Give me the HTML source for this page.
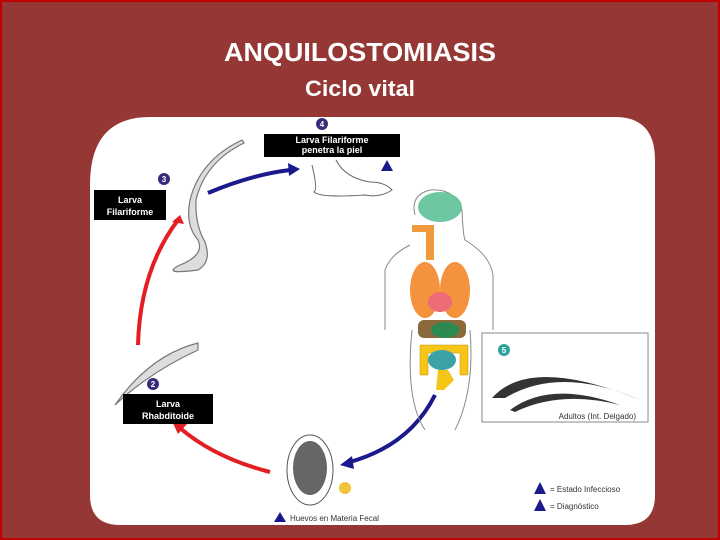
<!DOCTYPE html>
<html><head><meta charset="utf-8"><style>
html,body{margin:0;padding:0;background:#953735;}
svg{display:block}
</style></head><body>
<svg width="720" height="540" viewBox="0 0 720 540" xmlns="http://www.w3.org/2000/svg" font-family="Liberation Sans, sans-serif">
<rect x="0" y="0" width="720" height="540" fill="#953735"/>
<rect x="1" y="1" width="718" height="538" fill="none" stroke="#c00000" stroke-width="2"/>
<text x="360" y="61" text-anchor="middle" fill="#fff" font-size="26" font-weight="bold" textLength="272" lengthAdjust="spacingAndGlyphs">ANQUILOSTOMIASIS</text>
<text x="360" y="96" text-anchor="middle" fill="#fff" font-size="22" font-weight="bold" textLength="110" lengthAdjust="spacingAndGlyphs">Ciclo vital</text>
<path d="M150 117 H615 Q655 117 655 160 V495 Q655 525 625 525 H120 Q90 525 90 495 V185 Q90 117 150 117 Z" fill="#fff"/>
<!-- arrows -->
<path d="M138 345 Q140 270 178 220" fill="none" stroke="#e31e24" stroke-width="4"/>
<polygon points="180,215 172,222 184,224" fill="#e31e24"/>
<path d="M270 472 Q215 458 180 428" fill="none" stroke="#e31e24" stroke-width="4"/>
<polygon points="172,421 187,424 178,434" fill="#e31e24"/>
<path d="M208 193 Q250 175 290 170" fill="none" stroke="#1a1a8c" stroke-width="4"/>
<polygon points="300,169 288,163 289,176" fill="#1a1a8c"/>
<path d="M435 395 Q410 445 350 462" fill="none" stroke="#1a1a8c" stroke-width="4"/>
<polygon points="340,465 352,456 354,469" fill="#1a1a8c"/>
<!-- worms -->
<path d="M242 140 Q200 160 190 200 Q185 225 198 240 Q205 255 180 265 Q160 275 198 270 Q212 262 205 242 Q195 225 196 200 Q205 162 244 143 Z" fill="#ddd" stroke="#777" stroke-width="1.2"/>
<path d="M198 343 Q150 355 115 405 Q150 372 198 350 Z" fill="#ddd" stroke="#777" stroke-width="1.2"/>
<!-- foot -->
<path d="M312 165 Q318 190 314 192 Q320 198 365 195 Q380 198 392 190 Q385 182 370 182 Q345 178 336 160" fill="none" stroke="#666" stroke-width="1"/>
<!-- body -->
<path d="M415 215 Q410 195 430 190 Q455 188 462 210 Q463 235 465 240 Q490 255 493 275 V330 M410 245 Q390 255 385 270 V330 M412 330 Q405 400 425 430 M470 330 Q475 390 455 430" fill="none" stroke="#888" stroke-width="1"/>
<ellipse cx="440" cy="207" rx="22" ry="15" fill="#6dc7a0"/>
<path d="M412 225 h22 v35 h-8 v-28 h-14z" fill="#f09a3e"/>
<ellipse cx="425" cy="290" rx="15" ry="28" fill="#f5923e"/>
<ellipse cx="455" cy="290" rx="15" ry="28" fill="#f5923e"/>
<ellipse cx="440" cy="302" rx="12" ry="10" fill="#ee6b78"/>
<rect x="418" y="320" width="48" height="18" rx="6" fill="#8a6a3c"/>
<ellipse cx="445" cy="330" rx="14" ry="8" fill="#2b8a52"/>
<path d="M420 345 h48 v30 h-8 v-22 h-32 v22 h-8z" fill="#f5c518" stroke="#c59010" stroke-width="0.5"/>
<ellipse cx="442" cy="360" rx="14" ry="10" fill="#3ba3a8"/>
<path d="M438 370 h10 l6 10 -10 10 h-8z" fill="#f5c518"/>
<!-- adults box -->
<rect x="482" y="333" width="166" height="89" fill="#fff" stroke="#888" stroke-width="1"/>
<circle cx="504" cy="350" r="6" fill="#2ea39c"/><text x="504" y="353" text-anchor="middle" font-size="8" fill="#fff" font-weight="bold">5</text>
<path d="M492 398 Q530 355 640 400 Q560 365 505 398 Z" fill="#333"/>
<path d="M510 410 Q550 380 620 405 Q560 390 515 412 Z" fill="#333"/>
<text x="636" y="419" text-anchor="end" font-size="8" fill="#333">Adultos (Int. Delgado)</text>
<!-- egg -->
<ellipse cx="310" cy="470" rx="23" ry="35" fill="#fff" stroke="#555" stroke-width="1"/>
<ellipse cx="310" cy="468" rx="17" ry="27" fill="#666"/>
<circle cx="345" cy="488" r="6" fill="#f2c43a"/>
<polygon points="274,522 280,512 286,522" fill="#1a1a8c"/>
<text x="290" y="521" font-size="8" fill="#333">Huevos en Materia Fecal</text>
<polygon points="534,494 540,482 546,494" fill="#1a1a8c"/>
<text x="550" y="492" font-size="8" fill="#333">= Estado Infeccioso</text>
<polygon points="534,511 540,499 546,511" fill="#1a1a8c"/>
<text x="550" y="509" font-size="8" fill="#333">= Diagnóstico</text>
<polygon points="381,171 387,160 393,171" fill="#1a1a8c"/>
<circle cx="322" cy="124" r="6" fill="#3a2a7a"/><text x="322" y="127" text-anchor="middle" font-size="8" fill="#fff" font-weight="bold">4</text>
<circle cx="164" cy="179" r="6" fill="#3a2a7a"/><text x="164" y="182" text-anchor="middle" font-size="8" fill="#fff" font-weight="bold">3</text>
<circle cx="153" cy="384" r="6" fill="#3a2a7a"/><text x="153" y="387" text-anchor="middle" font-size="8" fill="#fff" font-weight="bold">2</text>
<rect x="264" y="134" width="136" height="23" fill="#000"/>
<text x="332" y="143" text-anchor="middle" font-size="9" font-weight="bold" fill="#fff">Larva Filariforme</text>
<text x="332" y="153" text-anchor="middle" font-size="9" font-weight="bold" fill="#fff">penetra la piel</text>
<rect x="94" y="190" width="72" height="30" fill="#000"/>
<text x="130" y="203" text-anchor="middle" font-size="9" font-weight="bold" fill="#fff">Larva</text>
<text x="130" y="215" text-anchor="middle" font-size="9" font-weight="bold" fill="#fff">Filariforme</text>
<rect x="123" y="394" width="90" height="30" fill="#000"/>
<text x="168" y="407" text-anchor="middle" font-size="9" font-weight="bold" fill="#fff">Larva</text>
<text x="168" y="419" text-anchor="middle" font-size="9" font-weight="bold" fill="#fff">Rhabditoide</text>
</svg>
</body></html>
